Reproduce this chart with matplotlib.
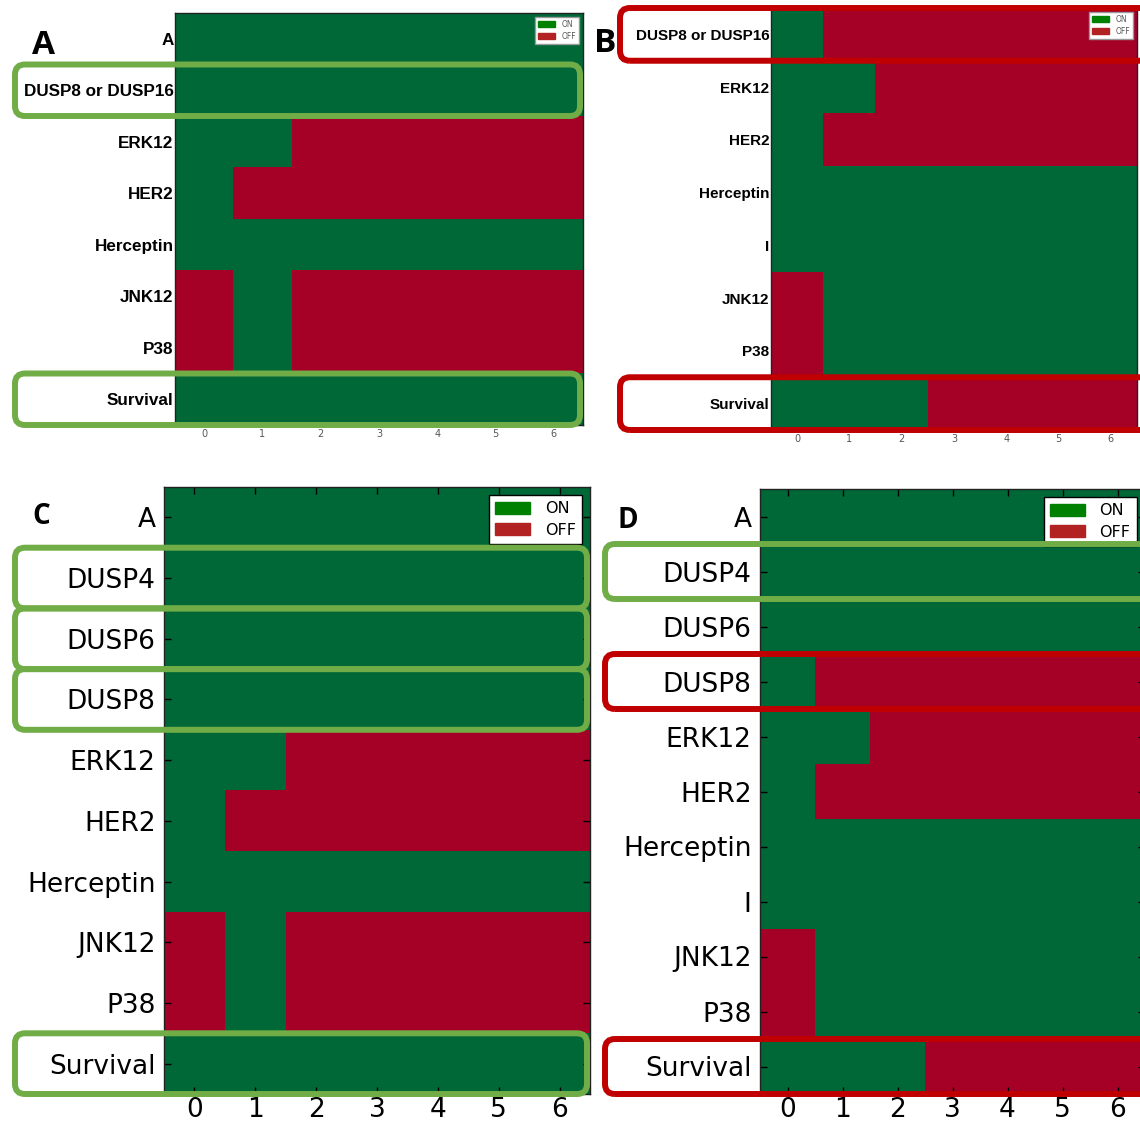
import numpy as np
import matplotlib.pyplot as plt
from matplotlib.patches import FancyBboxPatch, Patch
from matplotlib.transforms import IdentityTransform

W, H, DPI = 1140, 1124, 100

steps = [0, 1, 2, 3, 4, 5, 6]

# Panel A
labels_a = ['A', 'DUSP8 or DUSP16', 'ERK12', 'HER2', 'Herceptin', 'JNK12', 'P38', 'Survival']
states_a = [
    [1, 1, 1, 1, 1, 1, 1],
    [1, 1, 1, 1, 1, 1, 1],
    [1, 1, 0, 0, 0, 0, 0],
    [1, 0, 0, 0, 0, 0, 0],
    [1, 1, 1, 1, 1, 1, 1],
    [0, 1, 0, 0, 0, 0, 0],
    [0, 1, 0, 0, 0, 0, 0],
    [1, 1, 1, 1, 1, 1, 1],
]
marks_a = [('DUSP8 or DUSP16', '#70ad47'), ('Survival', '#70ad47')]

# Panel B
labels_b = ['DUSP8 or DUSP16', 'ERK12', 'HER2', 'Herceptin', 'I', 'JNK12', 'P38', 'Survival']
states_b = [
    [1, 0, 0, 0, 0, 0, 0],
    [1, 1, 0, 0, 0, 0, 0],
    [1, 0, 0, 0, 0, 0, 0],
    [1, 1, 1, 1, 1, 1, 1],
    [1, 1, 1, 1, 1, 1, 1],
    [0, 1, 1, 1, 1, 1, 1],
    [0, 1, 1, 1, 1, 1, 1],
    [1, 1, 1, 0, 0, 0, 0],
]
marks_b = [('DUSP8 or DUSP16', '#c00000'), ('Survival', '#c00000')]

# Panel C
labels_c = ['A', 'DUSP4', 'DUSP6', 'DUSP8', 'ERK12', 'HER2', 'Herceptin', 'JNK12', 'P38', 'Survival']
states_c = [
    [1, 1, 1, 1, 1, 1, 1],
    [1, 1, 1, 1, 1, 1, 1],
    [1, 1, 1, 1, 1, 1, 1],
    [1, 1, 1, 1, 1, 1, 1],
    [1, 1, 0, 0, 0, 0, 0],
    [1, 0, 0, 0, 0, 0, 0],
    [1, 1, 1, 1, 1, 1, 1],
    [0, 1, 0, 0, 0, 0, 0],
    [0, 1, 0, 0, 0, 0, 0],
    [1, 1, 1, 1, 1, 1, 1],
]
marks_c = [('DUSP4', '#70ad47'), ('DUSP6', '#70ad47'), ('DUSP8', '#70ad47'), ('Survival', '#70ad47')]

# Panel D
labels_d = ['A', 'DUSP4', 'DUSP6', 'DUSP8', 'ERK12', 'HER2', 'Herceptin', 'I', 'JNK12', 'P38', 'Survival']
states_d = [
    [1, 1, 1, 1, 1, 1, 1],
    [1, 1, 1, 1, 1, 1, 1],
    [1, 1, 1, 1, 1, 1, 1],
    [1, 0, 0, 0, 0, 0, 0],
    [1, 1, 0, 0, 0, 0, 0],
    [1, 0, 0, 0, 0, 0, 0],
    [1, 1, 1, 1, 1, 1, 1],
    [1, 1, 1, 1, 1, 1, 1],
    [0, 1, 1, 1, 1, 1, 1],
    [0, 1, 1, 1, 1, 1, 1],
    [1, 1, 1, 0, 0, 0, 0],
]
marks_d = [('DUSP4', '#70ad47'), ('DUSP8', '#c00000'), ('Survival', '#c00000')]

fig = plt.figure(figsize=(W / DPI, H / DPI), dpi=DPI)


def px_axes(left, top, right, bottom):
    # axes placed by pixel edges (measured from the top)
    return fig.add_axes([left / W, 1 - bottom / H, (right - left) / W, (bottom - top) / H])


def heatmap(ax, labels, states, small, fsize, leg_size):
    ax.imshow(np.array(states), cmap='RdYlGn', vmin=0, vmax=1,
              aspect='auto', interpolation='nearest')
    ax.set_xticks(steps)
    ax.set_yticks(range(len(labels)))
    if small:
        ax.set_yticklabels(labels, fontsize=fsize, fontweight='bold', family='Liberation Sans')
        ax.set_xticklabels(steps, fontsize=7, color='#555555')
        ax.tick_params(length=0, pad=3)
        ax.tick_params(axis='y', pad=1)
        edge, txt = '#999999', '#555555'
    else:
        ax.set_yticklabels(labels, fontsize=fsize)
        ax.set_xticklabels(steps, fontsize=fsize)
        ax.tick_params(direction='in', top=True, right=True, length=5, width=1, pad=6)
        ax.tick_params(axis='x', pad=2)
        edge, txt = 'black', 'black'
    for s in ax.spines.values():
        s.set_linewidth(1)
        s.set_color('#222222')
    handles = [Patch(facecolor='green', edgecolor='green', label='ON'),
               Patch(facecolor='firebrick', edgecolor='firebrick', label='OFF')]
    leg = ax.legend(handles=handles, loc='upper right', fontsize=leg_size, fancybox=False,
                    framealpha=1, edgecolor=edge, handlelength=2.2, handleheight=0.8,
                    borderaxespad=0.5, labelspacing=0.4, handletextpad=0.9)
    for t in leg.get_texts():
        t.set_color(txt)


def highlight(ax, labels, marks, x_left, right_pad):
    x_right = ax.transAxes.transform((1, 0))[0] + right_pad
    for name, color in marks:
        r = labels.index(name)
        y_top = ax.transData.transform((0, r - 0.5))[1]
        y_bot = ax.transData.transform((0, r + 0.5))[1]
        box = FancyBboxPatch((x_left, y_bot), x_right - x_left, y_top - y_bot,
                             boxstyle='round,pad=0,rounding_size=10',
                             transform=IdentityTransform(), fill=False,
                             edgecolor=color, linewidth=4.3, zorder=5)
        fig.add_artist(box)


ax_a = px_axes(175, 13, 583, 425)
heatmap(ax_a, labels_a, states_a, True, 12.3, 5.5)
highlight(ax_a, labels_a, marks_a, 15, -3)

ax_b = px_axes(771, 8, 1137, 430)
heatmap(ax_b, labels_b, states_b, True, 11, 5.5)
highlight(ax_b, labels_b, marks_b, 620, 20)

ax_c = px_axes(164, 487, 590, 1094)
heatmap(ax_c, labels_c, states_c, False, 19, 11.5)
highlight(ax_c, labels_c, marks_c, 15, -3)

ax_d = px_axes(760, 489, 1145, 1094)
heatmap(ax_d, labels_d, states_d, False, 19, 11.5)
highlight(ax_d, labels_d, marks_d, 605, 20)

# panel letters
for letter, x, y, size in [('A', 43, 45, 24), ('B', 605, 43, 24), ('C', 41, 516, 20), ('D', 628, 521, 20)]:
    fig.text(x / W, 1 - y / H, letter, ha='center', va='center', fontsize=size,
             fontweight='bold', family='Open Sans')

fig.savefig('out.png', dpi=DPI)
